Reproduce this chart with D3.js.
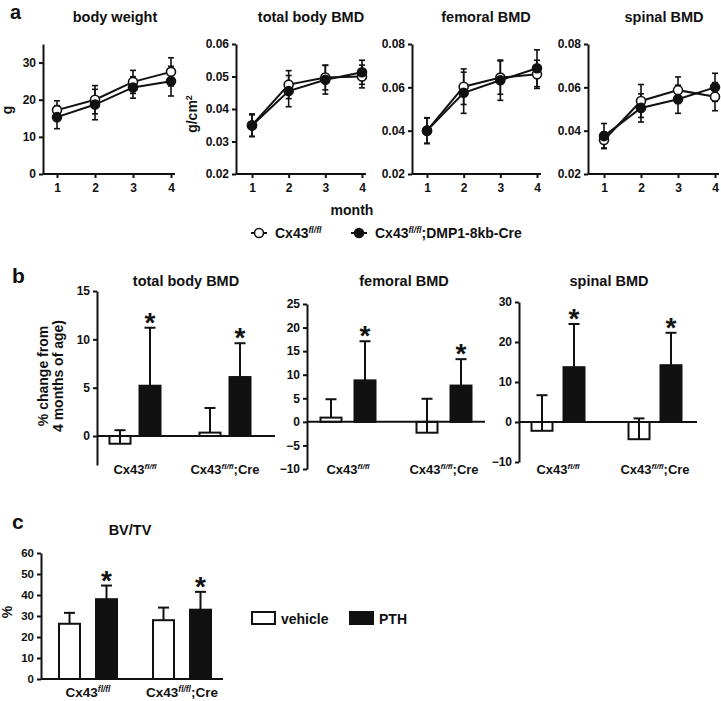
<!DOCTYPE html>
<html><head><meta charset="utf-8">
<script src="https://cdn.jsdelivr.net/npm/d3@7"></script>
<style>
body{margin:0;background:#fff}
svg{display:block}
text{font-family:"Liberation Sans",Arial,sans-serif;font-weight:bold;fill:#111}
</style>
</head><body><svg id="chart" width="721" height="701"></svg>
<script>
// ---------- DATA ----------
const months = [1, 2, 3, 4];
const seriesNames = ["Cx43fl/fl", "Cx43fl/fl;DMP1-8kb-Cre"];

const bodyWeightWT = [17.2, 20.0, 24.8, 27.5];
const bodyWeightWTErr = [2.5, 3.8, 3.1, 3.8];
const bodyWeightKO = [15.3, 18.7, 23.3, 25.0];
const bodyWeightKOErr = [3.1, 4.1, 2.9, 4.0];

const totalBMDWT = [0.0350, 0.0475, 0.0497, 0.0500];
const totalBMDWTErr = [0.0035, 0.0043, 0.0038, 0.0035];
const totalBMDKO = [0.0349, 0.0455, 0.0490, 0.0513];
const totalBMDKOErr = [0.0033, 0.0048, 0.0044, 0.0037];

const femoralBMDWT = [0.0400, 0.0603, 0.0645, 0.0660];
const femoralBMDWTErr = [0.0058, 0.0082, 0.0077, 0.0065];
const femoralBMDKO = [0.0400, 0.0575, 0.0633, 0.0688];
const femoralBMDKOErr = [0.0060, 0.0095, 0.0093, 0.0085];

const spinalBMDWT = [0.0357, 0.0537, 0.0587, 0.0557];
const spinalBMDWTErr = [0.0037, 0.0076, 0.0061, 0.0065];
const spinalBMDKO = [0.0375, 0.0505, 0.0545, 0.0600];
const spinalBMDKOErr = [0.0058, 0.0065, 0.0065, 0.0065];

const groups = ["Cx43fl/fl", "Cx43fl/fl;Cre"];
const treatments = ["vehicle", "PTH"];

const changeTotalVehicle = [-0.8, 0.35];
const changeTotalVehicleErr = [1.4, 2.55];
const changeTotalPTH = [5.2, 6.1];
const changeTotalPTHErr = [6.0, 3.5];

const changeFemoralVehicle = [0.9, -2.3];
const changeFemoralVehicleErr = [3.9, 7.2];
const changeFemoralPTH = [8.8, 7.7];
const changeFemoralPTHErr = [8.3, 5.6];

const changeSpinalVehicle = [-2.2, -4.3];
const changeSpinalVehicleErr = [8.9, 5.2];
const changeSpinalPTH = [13.7, 14.2];
const changeSpinalPTHErr = [10.8, 8.1];

const bvtvVehicle = [26.3, 28.0];
const bvtvVehicleErr = [5.2, 6.0];
const bvtvPTH = [38.0, 33.0];
const bvtvPTHErr = [6.5, 8.5];

const ticksBW = [0, 10, 20, 30];
const ticksTotal = [0.02, 0.03, 0.04, 0.05, 0.06];
const ticksFem = [0.02, 0.04, 0.06, 0.08];
const ticksSpinal = [0.02, 0.04, 0.06, 0.08];
const ticksChangeTotal = [0, 5, 10, 15];
const ticksChangeFem = [-10, -5, 0, 5, 10, 15, 20, 25];
const ticksChangeSpinal = [-10, 0, 10, 20, 30];
const ticksBVTV = [0, 10, 20, 30, 40, 50, 60];

// ---------- DRAW ----------
const svg = d3.select("#chart");
const INK = "#111";

function styleAxis(sel, fs) {
  sel.selectAll(".domain").attr("stroke", INK).attr("stroke-width", 2);
  sel.selectAll(".tick line").attr("stroke", INK).attr("stroke-width", 2);
  sel.selectAll(".tick text").attr("fill", INK).style("font-size", fs + "px")
     .style("font-family", '"Liberation Sans",Arial,sans-serif').style("font-weight", "bold");
}

function cxLabel(parent, x, y, fs, suffix, anchor) {
  const t = parent.append("text").attr("x", x).attr("y", y)
    .attr("text-anchor", anchor || "middle").style("font-size", fs + "px");
  t.append("tspan").text("Cx43");
  t.append("tspan").text("fl/fl").style("font-style", "italic")
    .style("font-size", (fs * 0.62) + "px").attr("dy", -fs * 0.38);
  if (suffix) t.append("tspan").text(suffix).attr("dy", fs * 0.38);
  return t;
}

function label(x, y, txt, fs, rot, anchor) {
  const t = svg.append("text").attr("text-anchor", anchor || "middle")
    .style("font-size", fs + "px").text(txt);
  if (rot) t.attr("transform", `translate(${x},${y}) rotate(-90)`);
  else t.attr("x", x).attr("y", y);
  return t;
}

// panel letters
label(10, 19, "a", 20, false, "start");
label(12, 283, "b", 21, false, "start");
label(12, 529, "c", 21, false, "start");

// ---------- Panel a ----------
const panelsA = [
  {title: "body weight", wt: bodyWeightWT, wtE: bodyWeightWTErr, ko: bodyWeightKO, koE: bodyWeightKOErr,
   domain: [0, 35], ticks: ticksBW, fmt: d3.format("d"), ax: 43, x1: 57, x4: 171, xe: 175, tx: 115, ylab: "g", ylx: 12},
  {title: "total body BMD", wt: totalBMDWT, wtE: totalBMDWTErr, ko: totalBMDKO, koE: totalBMDKOErr,
   domain: [0.02, 0.06], ticks: ticksTotal, fmt: d3.format(".2f"), ax: 236, x1: 252, x4: 362, xe: 366, tx: 311, ylab: "g/cm", ylx: 197},
  {title: "femoral BMD", wt: femoralBMDWT, wtE: femoralBMDWTErr, ko: femoralBMDKO, koE: femoralBMDKOErr,
   domain: [0.02, 0.08], ticks: ticksFem, fmt: d3.format(".2f"), ax: 412, x1: 427, x4: 537, xe: 541, tx: 486},
  {title: "spinal BMD", wt: spinalBMDWT, wtE: spinalBMDWTErr, ko: spinalBMDKO, koE: spinalBMDKOErr,
   domain: [0.02, 0.08], ticks: ticksSpinal, fmt: d3.format(".2f"), ax: 588, x1: 604, x4: 715, xe: 719, tx: 664}
];

panelsA.forEach(p => {
  const y = d3.scaleLinear().domain(p.domain).range([174, 44]);
  const x = d3.scaleLinear().domain([1, 4]).range([p.x1, p.x4]);
  const g = svg.append("g");
  g.append("g").attr("transform", `translate(${p.ax},0)`)
    .call(d3.axisLeft(y).tickValues(p.ticks).tickFormat(p.fmt).tickSize(4).tickSizeOuter(0).tickPadding(3))
    .call(s => styleAxis(s, 12));
  const xa = g.append("g").attr("transform", "translate(0,174)")
    .call(d3.axisBottom(x).tickValues(months).tickFormat(d3.format("d")).tickSize(4).tickPadding(5))
    .call(s => styleAxis(s, 12));
  xa.select(".domain").remove();
  g.append("line").attr("x1", p.ax).attr("x2", p.xe).attr("y1", 174).attr("y2", 174)
    .attr("stroke", INK).attr("stroke-width", 2);
  g.append("text").attr("x", p.tx).attr("y", 22).attr("text-anchor", "middle")
    .style("font-size", "14.5px").text(p.title);
  if (p.ylab) {
    const t = g.append("text").attr("text-anchor", "middle").style("font-size", "14px")
      .attr("transform", `translate(${p.ylx},${p.ylab === "g" ? 110 : 114}) rotate(-90)`).text(p.ylab);
    if (p.ylab !== "g") t.append("tspan").text("2").attr("dy", -5).style("font-size", "9px");
  }
  const series = [
    {v: p.wt, e: p.wtE, fill: "#fff"},
    {v: p.ko, e: p.koE, fill: INK}
  ];
  series.forEach(s => {
    const pts = months.map((m, i) => ({m, v: s.v[i], e: s.e[i]}));
    const eb = g.append("g");
    pts.forEach(d => {
      eb.append("line").attr("x1", x(d.m)).attr("x2", x(d.m))
        .attr("y1", y(d.v - d.e)).attr("y2", y(d.v + d.e)).attr("stroke", INK).attr("stroke-width", 1.6);
      [d.v - d.e, d.v + d.e].forEach(c => eb.append("line").attr("x1", x(d.m) - 3).attr("x2", x(d.m) + 3)
        .attr("y1", y(c)).attr("y2", y(c)).attr("stroke", INK).attr("stroke-width", 1.6));
    });
  });
  series.forEach(s => {
    const pts = months.map((m, i) => ({m, v: s.v[i]}));
    g.append("path").datum(pts).attr("fill", "none").attr("stroke", INK).attr("stroke-width", 2)
      .attr("d", d3.line().x(d => x(d.m)).y(d => y(d.v)));
  });
  series.forEach(s => {
    g.selectAll(null).data(months.map((m, i) => ({m, v: s.v[i]}))).join("circle")
      .attr("cx", d => x(d.m)).attr("cy", d => y(d.v)).attr("r", 4.5)
      .attr("fill", s.fill).attr("stroke", INK).attr("stroke-width", 1.6);
  });
});

label(352, 215, "month", 14);
// legend a
(function () {
  const ly = 233;
  [{cx: 259, fill: "#fff", tx: 275, suffix: null}, {cx: 359, fill: INK, tx: 375, suffix: ";DMP1-8kb-Cre"}].forEach(l => {
    svg.append("line").attr("x1", l.cx - 8).attr("x2", l.cx + 8).attr("y1", ly).attr("y2", ly)
      .attr("stroke", INK).attr("stroke-width", 2);
    svg.append("circle").attr("cx", l.cx).attr("cy", ly).attr("r", 4.5).attr("fill", l.fill)
      .attr("stroke", INK).attr("stroke-width", 1.6);
    cxLabel(svg, l.tx, ly + 5, 14, l.suffix, "start");
  });
})();

// ---------- bar panels ----------
function barPanel(p) {
  const y = d3.scaleLinear().domain(p.domain).range([p.bottom, p.top]);
  const gx = d3.scalePoint().domain(groups).range([p.ax + p.g1, p.ax + p.g2]);
  const tx = d3.scalePoint().domain(treatments).range([-p.inner, p.inner]);
  const g = svg.append("g");
  g.append("g").attr("transform", `translate(${p.ax},0)`)
    .call(d3.axisLeft(y).tickValues(p.ticks).tickFormat(d3.format("d")).tickSize(4).tickSizeOuter(0).tickPadding(3))
    .call(s => styleAxis(s, p.fs));
  const bars = [];
  groups.forEach((gr, i) => {
    bars.push({gr, tr: "vehicle", v: p.veh[i], e: p.vehE[i]});
    bars.push({gr, tr: "PTH", v: p.pth[i], e: p.pthE[i]});
  });
  const bw = 21;
  bars.forEach(b => {
    const cx = gx(b.gr) + tx(b.tr);
    const top = b.v + b.e;
    g.append("line").attr("x1", cx).attr("x2", cx).attr("y1", y(b.v)).attr("y2", y(top))
      .attr("stroke", INK).attr("stroke-width", 2);
    g.append("line").attr("x1", cx - 5.5).attr("x2", cx + 5.5).attr("y1", y(top)).attr("y2", y(top))
      .attr("stroke", INK).attr("stroke-width", 2);
    g.append("rect").attr("x", cx - bw / 2).attr("width", bw)
      .attr("y", Math.min(y(b.v), y(0))).attr("height", Math.abs(y(b.v) - y(0)))
      .attr("fill", b.tr === "PTH" ? INK : "none").attr("stroke", INK).attr("stroke-width", 2);
    if (b.tr === "PTH") {
      g.append("text").attr("x", cx).attr("y", y(top) + 4).attr("text-anchor", "middle")
        .style("font-size", "28px").text("*");
    }
  });
  g.append("line").attr("x1", p.ax).attr("x2", p.ax + p.w).attr("y1", y(0)).attr("y2", y(0))
    .attr("stroke", INK).attr("stroke-width", 2);
  g.append("text").attr("x", p.tx).attr("y", p.ty).attr("text-anchor", "middle")
    .style("font-size", "14.5px").text(p.title);
  groups.forEach((gr, i) => cxLabel(g, gx(gr), p.ly, p.lfs, i === 1 ? ";Cre" : null));
}

barPanel({title: "total body BMD", veh: changeTotalVehicle, vehE: changeTotalVehicleErr, pth: changeTotalPTH, pthE: changeTotalPTHErr,
  domain: [-3, 15], ticks: ticksChangeTotal, top: 291, bottom: 465, ax: 97, w: 178, g1: 38, g2: 128, inner: 15,
  fs: 12, tx: 186, ty: 286, ly: 474, lfs: 13});
barPanel({title: "femoral BMD", veh: changeFemoralVehicle, vehE: changeFemoralVehicleErr, pth: changeFemoralPTH, pthE: changeFemoralPTHErr,
  domain: [-10, 25], ticks: ticksChangeFem, top: 304, bottom: 469, ax: 307, w: 178, g1: 41, g2: 137, inner: 17,
  fs: 12, tx: 404, ty: 286, ly: 474, lfs: 13});
barPanel({title: "spinal BMD", veh: changeSpinalVehicle, vehE: changeSpinalVehicleErr, pth: changeSpinalPTH, pthE: changeSpinalPTHErr,
  domain: [-10, 30], ticks: ticksChangeSpinal, top: 302, bottom: 462, ax: 519, w: 178, g1: 39, g2: 136, inner: 16,
  fs: 12, tx: 609, ty: 286, ly: 474, lfs: 13});

label(48, 376, "% change from", 14, true);
label(63, 376, "4 months of age)", 14, true);

barPanel({title: "BV/TV", veh: bvtvVehicle, vehE: bvtvVehicleErr, pth: bvtvPTH, pthE: bvtvPTHErr,
  domain: [0, 60], ticks: ticksBVTV, top: 553, bottom: 679, ax: 41, w: 182, g1: 47, g2: 141, inner: 18.5,
  fs: 11.5, tx: 130, ty: 535, ly: 697, lfs: 13.5});
label(12, 612, "%", 14, true);

// legend c
[{x: 252, fill: "none", t: "vehicle"}, {x: 350, fill: INK, t: "PTH"}].forEach(l => {
  svg.append("rect").attr("x", l.x).attr("y", 612).attr("width", 23).attr("height", 12)
    .attr("fill", l.fill).attr("stroke", INK).attr("stroke-width", 2);
  svg.append("text").attr("x", l.x + 29).attr("y", 623.5).style("font-size", "14px").text(l.t);
});
</script></body></html>
